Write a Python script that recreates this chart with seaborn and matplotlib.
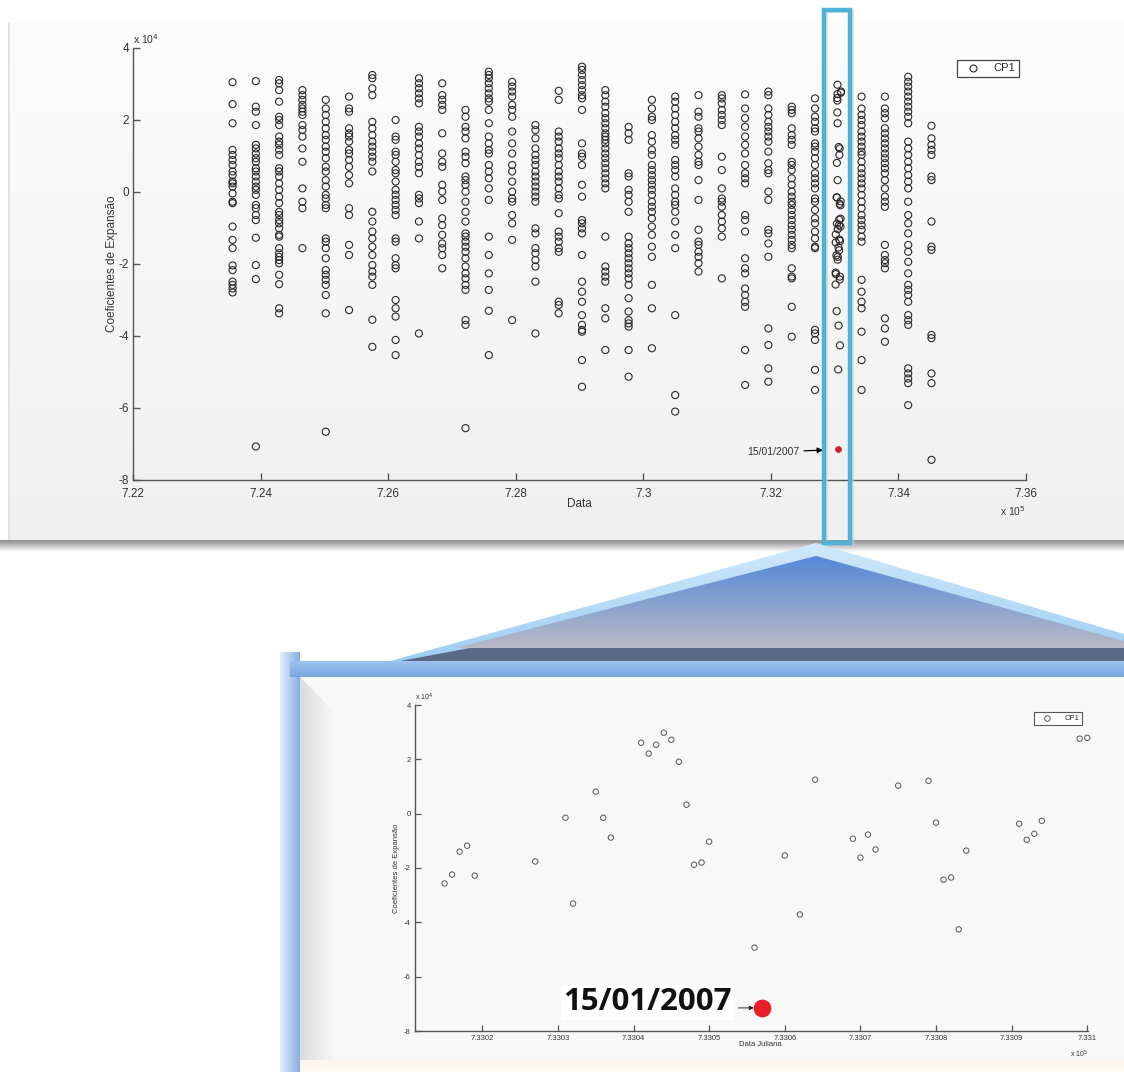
import numpy as np
import pandas as pd
import matplotlib
matplotlib.use("Agg")
import matplotlib.pyplot as plt
import matplotlib.colors as mcolors
from matplotlib.patches import Rectangle, Polygon
from matplotlib.lines import Line2D
import seaborn as sns

sns.set_theme(style="white")
plt.rcParams['font.family'] = ['Liberation Sans', 'DejaVu Sans']

# ---------------- data (CP1 in units of 1e4, dates as MATLAB datenum) ----------------
years = list(range(1981, 2012))

cp1_1981 = [3.05, 2.44, 1.91, 1.17, 1.03, 0.89, 0.75, 0.57, 0.47, 0.29, 0.24, 0.15, -0.04, -0.27, -0.31, -0.96, -1.33, -1.56, -2.04, -2.17, -2.49, -2.58, -2.68, -2.79]
cp1_1982 = [3.08, 2.37, 2.23, 1.86, 1.31, 1.21, 1.07, 0.94, 0.84, 0.66, 0.57, 0.43, 0.29, 0.15, 0.06, -0.08, -0.36, -0.45, -0.64, -0.78, -1.27, -2.03, -2.42, -7.07]
cp1_1983 = [3.11, 3.02, 2.83, 2.51, 2.09, 2.00, 1.86, 1.54, 1.40, 1.31, 1.17, 1.03, 0.66, 0.57, 0.43, 0.24, 0.06, -0.13, -0.31, -0.55, -0.64, -0.78, -0.87, -1.01, -1.19, -1.24, -1.56, -1.70, -1.80, -1.89, -1.98, -2.30, -2.56, -3.23, -3.37]
cp1_1984 = [2.83, 2.69, 2.56, 2.42, 2.32, 2.23, 2.14, 1.86, 1.72, 1.54, 1.21, 0.84, 0.10, -0.27, -0.45, -1.56]
cp1_1985 = [2.56, 2.32, 2.14, 1.95, 1.77, 1.58, 1.45, 1.26, 1.12, 0.94, 0.70, 0.57, 0.33, 0.15, -0.08, -0.18, -0.36, -0.45, -1.29, -1.38, -1.56, -1.84, -2.17, -2.30, -2.44, -2.58, -2.86, -3.37, -6.66]
cp1_1986 = [2.65, 2.32, 2.23, 1.77, 1.63, 1.54, 1.40, 1.17, 1.07, 0.89, 0.70, 0.47, 0.24, -0.45, -0.64, -1.47, -1.75, -3.28]
cp1_1987 = [3.25, 3.16, 2.88, 2.69, 1.95, 1.77, 1.58, 1.40, 1.26, 1.12, 0.98, 0.84, 0.57, -0.55, -0.82, -1.10, -1.29, -1.52, -1.75, -2.03, -2.21, -2.35, -2.58, -3.55, -4.30]
cp1_1988 = [2.00, 1.54, 1.45, 1.12, 1.03, 0.84, 0.61, 0.52, 0.29, 0.06, -0.08, -0.22, -0.36, -0.50, -0.64, -1.29, -1.38, -1.84, -2.03, -2.12, -3.00, -3.23, -3.46, -4.11, -4.53]
cp1_1989 = [3.16, 3.02, 2.88, 2.74, 2.60, 2.46, 1.81, 1.68, 1.54, 1.35, 1.21, 1.03, 0.84, 0.70, 0.52, -0.08, -0.18, -0.31, -0.82, -1.29, -3.93]
cp1_1990 = [3.02, 2.69, 2.56, 2.42, 2.28, 1.63, 1.07, 0.84, 0.70, 0.20, 0.01, -0.22, -0.73, -0.92, -1.19, -1.43, -1.56, -1.75, -2.12]
cp1_1991 = [2.28, 2.09, 1.81, 1.68, 1.49, 1.12, 0.98, 0.80, 0.43, 0.33, 0.20, 0.01, -0.27, -0.55, -0.82, -1.15, -1.24, -1.38, -1.52, -1.66, -1.84, -2.07, -2.26, -2.40, -2.58, -2.72, -3.56, -3.69, -6.56]
cp1_1992 = [3.34, 3.25, 3.16, 3.02, 2.88, 2.74, 2.60, 2.51, 2.28, 1.91, 1.54, 1.35, 1.17, 1.07, 0.75, 0.57, 0.38, 0.10, -0.22, -1.24, -1.75, -2.26, -2.72, -3.30, -4.53]
cp1_1993 = [3.06, 2.93, 2.79, 2.65, 2.42, 2.28, 2.09, 1.68, 1.35, 1.07, 0.75, 0.57, 0.29, 0.01, -0.18, -0.27, -0.64, -0.87, -1.33, -3.56]
cp1_1994 = [1.86, 1.72, 1.49, 1.21, 1.03, 0.89, 0.75, 0.57, 0.43, 0.29, 0.15, 0.01, -0.13, -0.27, -1.01, -1.15, -1.56, -1.70, -1.89, -2.07, -2.49, -3.93]
cp1_1995 = [2.81, 2.56, 1.68, 1.54, 1.40, 1.21, 1.07, 0.94, 0.75, 0.57, 0.43, 0.29, 0.10, -0.08, -0.18, -0.59, -1.10, -1.24, -1.38, -1.56, -1.66, -3.05, -3.14, -3.37]
cp1_1996 = [3.48, 3.39, 3.25, 3.11, 2.97, 2.83, 2.69, 2.60, 2.28, 1.35, 1.07, 0.98, 0.75, 0.20, -0.13, -0.78, -0.87, -1.01, -1.15, -1.75, -2.49, -2.77, -3.05, -3.42, -3.69, -3.83, -3.88, -4.67, -5.41]
cp1_1997 = [2.83, 2.69, 2.51, 2.37, 2.19, 2.05, 1.91, 1.77, 1.63, 1.54, 1.45, 1.35, 1.21, 1.07, 0.94, 0.80, 0.66, 0.52, 0.38, 0.24, 0.10, -1.24, -2.07, -2.21, -2.35, -2.49, -3.23, -3.51, -4.39]
cp1_1998 = [1.81, 1.63, 1.45, 0.52, 0.43, 0.06, -0.08, -0.27, -0.55, -1.24, -1.43, -1.56, -1.70, -1.84, -1.98, -2.12, -2.26, -2.40, -2.58, -2.95, -3.32, -3.56, -3.65, -3.74, -4.39, -5.13]
cp1_1999 = [2.56, 2.32, 2.09, 2.00, 1.58, 1.40, 1.17, 1.03, 0.75, 0.61, 0.47, 0.33, 0.20, 0.06, -0.08, -0.27, -0.41, -0.55, -0.73, -0.96, -1.19, -1.52, -1.80, -2.58, -3.23, -4.34]
cp1_2000 = [2.65, 2.51, 2.32, 2.14, 1.95, 1.77, 1.58, 1.45, 1.31, 0.89, 0.75, 0.61, 0.43, 0.10, -0.08, -0.27, -0.36, -0.55, -0.82, -1.19, -1.56, -3.42, -5.64, -6.10]
cp1_2001 = [2.69, 2.23, 2.09, 1.77, 1.68, 1.49, 1.26, 1.03, 0.84, 0.75, 0.33, -0.22, -1.05, -1.38, -1.47, -1.66, -1.80, -1.98, -2.21]
cp1_2002 = [2.69, 2.60, 2.46, 2.28, 2.14, 2.00, 1.86, 0.98, 0.61, 0.10, -0.18, -0.27, -0.41, -0.64, -0.82, -1.01, -1.24, -2.40]
cp1_2003 = [2.71, 2.32, 2.05, 1.81, 1.54, 1.31, 1.07, 0.75, 0.52, 0.38, 0.24, -0.64, -0.78, -1.10, -1.84, -2.12, -2.26, -2.68, -2.86, -3.05, -3.19, -4.39, -5.36]
cp1_2004 = [2.79, 2.69, 2.32, 2.14, 1.95, 1.81, 1.68, 1.54, 1.40, 1.12, 0.80, 0.61, 0.52, 0.01, -0.22, -1.05, -1.15, -1.43, -1.80, -3.79, -4.25, -4.90, -5.27]
cp1_2005 = [2.37, 2.28, 2.19, 1.77, 1.58, 1.45, 1.31, 0.84, 0.75, 0.61, 0.38, 0.20, 0.01, -0.13, -0.27, -0.36, -0.50, -0.64, -0.78, -0.92, -1.05, -1.19, -1.33, -1.47, -1.56, -2.12, -2.35, -2.40, -3.19, -4.02]
cp1_2006 = [2.60, 2.32, 2.09, 1.95, 1.77, 1.68, 1.35, 1.26, 1.12, 0.94, 0.75, 0.52, 0.38, 0.24, 0.10, -0.18, -0.27, -0.50, -0.73, -0.87, -1.10, -1.29, -1.52, -1.56, -3.83, -3.93, -4.11, -4.94, -5.50]
cp1_2008 = [2.65, 2.32, 2.14, 2.00, 1.86, 1.68, 1.54, 1.40, 1.26, 1.12, 1.03, 0.84, 0.66, 0.52, 0.38, 0.24, 0.10, -0.08, -0.27, -0.45, -0.64, -0.78, -0.92, -1.05, -1.24, -1.38, -2.44, -2.77, -3.05, -3.23, -3.88, -4.67, -5.50]
cp1_2009 = [2.65, 2.32, 2.19, 2.05, 1.77, 1.63, 1.49, 1.35, 1.21, 1.07, 0.94, 0.80, 0.66, 0.52, 0.33, 0.10, -0.13, -0.27, -0.41, -1.47, -1.75, -1.89, -1.98, -2.12, -3.51, -3.79, -4.16]
cp1_2010 = [3.20, 3.06, 2.93, 2.79, 2.65, 2.51, 2.37, 2.23, 2.09, 1.91, 1.40, 1.21, 1.03, 0.84, 0.66, 0.47, 0.29, 0.10, -0.27, -0.64, -0.87, -1.15, -1.47, -1.66, -1.94, -2.26, -2.58, -2.72, -2.86, -3.05, -3.42, -3.56, -3.69, -4.90, -5.04, -5.18, -5.31, -5.92]
cp1_2011 = [1.84, 1.49, 1.31, 1.17, 1.03, 0.43, 0.33, -0.82, -1.52, -1.61, -3.97, -4.06, -5.04, -5.31, -7.44]

# zoomed season 2006/2007 (datenum, CP1 x 1e4)
zoom_days = [733015, 733016, 733017, 733018, 733019, 733027, 733031, 733032, 733035, 733036,
             733037, 733041, 733042, 733043, 733044, 733045, 733046, 733047, 733048, 733049,
             733050, 733056, 733060, 733062, 733064, 733069, 733070, 733071, 733072, 733075,
             733079, 733080, 733081, 733082, 733083, 733084, 733091, 733092, 733093, 733094,
             733099, 733100]
zoom_cp1 = [-2.57, -2.24, -1.40, -1.18, -2.28, -1.76, -0.15, -3.31, 0.81, -0.15,
            -0.88, 2.61, 2.21, 2.54, 2.98, 2.72, 1.91, 0.33, -1.88, -1.80,
            -1.03, -4.93, -1.54, -3.71, 1.25, -0.92, -1.62, -0.77, -1.32, 1.03,
            1.21, -0.33, -2.43, -2.35, -4.26, -1.36, -0.37, -0.96, -0.74, -0.26,
            2.76, 2.79]
event_day = 733057          # 15/01/2007
event_cp1 = -7.15
event_label = "15/01/2007"

top_xticks = [722000, 724000, 726000, 728000, 730000, 732000, 734000, 736000]
top_xticklabels = ["7.22", "7.24", "7.26", "7.28", "7.3", "7.32", "7.34", "7.36"]
zoom_xticks = [733020, 733030, 733040, 733050, 733060, 733070, 733080, 733090, 733100]
zoom_xticklabels = ["7.3302", "7.3303", "7.3304", "7.3305", "7.3306", "7.3307", "7.3308", "7.3309", "7.331"]
yticks = [-8, -6, -4, -2, 0, 2, 4]

per_year = {
    1981: cp1_1981, 1982: cp1_1982, 1983: cp1_1983, 1984: cp1_1984, 1985: cp1_1985,
    1986: cp1_1986, 1987: cp1_1987, 1988: cp1_1988, 1989: cp1_1989, 1990: cp1_1990,
    1991: cp1_1991, 1992: cp1_1992, 1993: cp1_1993, 1994: cp1_1994, 1995: cp1_1995,
    1996: cp1_1996, 1997: cp1_1997, 1998: cp1_1998, 1999: cp1_1999, 2000: cp1_2000,
    2001: cp1_2001, 2002: cp1_2002, 2003: cp1_2003, 2004: cp1_2004, 2005: cp1_2005,
    2006: cp1_2006, 2008: cp1_2008, 2009: cp1_2009, 2010: cp1_2010, 2011: cp1_2011,
}
rows = []
for yr, vals in per_year.items():
    d = pd.Timestamp(yr, 1, 15).toordinal() + 366
    rows += [(d, v) for v in vals]
rows += list(zip(zoom_days, zoom_cp1))
top_df = pd.DataFrame(rows, columns=["dia", "cp1"])
zoom_df = pd.DataFrame({"dia": zoom_days, "cp1": zoom_cp1})
event_df = pd.DataFrame({"dia": [event_day], "cp1": [event_cp1]})

# ---------------- figure ----------------
W, H = 1124, 1072
fig = plt.figure(figsize=(W / 100, H / 100), dpi=100)
fig.patch.set_facecolor("white")

bg = fig.add_axes([0, 0, 1, 1], zorder=0)
bg.axis("off")


def grad(ax, x0, x1, y0, y1, c0, c1, horizontal=False, clip=None, z=1):
    g = np.linspace(0, 1, 256)
    a = np.array(mcolors.to_rgb(c0)); b = np.array(mcolors.to_rgb(c1))
    col = a[None, :] * (1 - g[:, None]) + b[None, :] * g[:, None]
    img = col[None, :, :] if horizontal else col[:, None, :]
    im = ax.imshow(img, extent=[x0, x1, y1, y0], aspect="auto", zorder=z, interpolation="bilinear")
    if clip is not None:
        ax.add_patch(clip)
        im.set_clip_path(clip)
    return im


# top panel
grad(bg, 8, W, 22, 540, "#fcfcfc", "#f0f0f0", z=1)
bg.add_patch(Rectangle((8, 22), 1.5, 518, fc="#e2e2e2", ec="none", zorder=2))
grad(bg, 0, W, 540, 552, "#8c8c8c", "#ffffff", z=2)

# connecting triangle
outer = Polygon([(816, 543), (383, 663), (W, 663), (W, 634)], closed=True, fc="none", ec="none")
grad(bg, 383, W, 543, 663, "#cfe9fb", "#9ccdf3", clip=outer, z=3)
inner = Polygon([(816, 556), (455, 648), (W, 648), (W, 641)], closed=True, fc="none", ec="none")
grad(bg, 455, W, 556, 648, "#5588d8", "#b9bac6", clip=inner, z=4)
bg.add_patch(Polygon([(395, 662), (470, 648), (W, 648), (W, 662)], closed=True,
                     fc="#5b6987", ec="none", zorder=5))

# bottom panel frame
grad(bg, 280, 300, 652, H, "#e3eefb", "#86aee6", horizontal=True, z=3)
grad(bg, 290, W, 661, 677, "#9dc3ee", "#79a6e0", z=6)
bg.add_patch(Rectangle((300, 677), W - 300, 386, fc="#f8f8f8", ec="none", zorder=6))
grad(bg, 300, 336, 677, 1062, "#dcdcdc", "#f8f8f8", horizontal=True, z=7)
bg.add_patch(Polygon([(300, 677), (345, 677), (345, 722)], closed=True, fc="#f8f8f8", ec="none", zorder=7))
grad(bg, 300, W, 1060, H, "#fdf6ef", "#fffaf6", z=7)

bg.set_xlim(0, W)
bg.set_ylim(H, 0)


def matlab_axes(rect, fs):
    ax = fig.add_axes(rect, zorder=3)
    ax.set_facecolor("none")
    for s in ("top", "right"):
        ax.spines[s].set_visible(False)
    for s in ("left", "bottom"):
        ax.spines[s].set_color("#555555")
        ax.spines[s].set_linewidth(1.0)
    ax.tick_params(direction="in", length=5, width=1, colors="#555555", labelcolor="#333333",
                   labelsize=fs, left=True, bottom=True, pad=3)
    ax.set_yticks(yticks)
    ax.set_yticklabels([str(t) for t in yticks])
    ax.set_ylim(-8, 4)
    return ax


# ---------- top: all seasons ----------
ax1 = matlab_axes([133 / W, 1 - 480 / H, 893 / W, 432 / H], 8.5)
ax1.tick_params(axis="x", pad=6)
sns.scatterplot(data=top_df, x="dia", y="cp1", ax=ax1, marker="o", s=26,
                facecolors="none", edgecolor="#2a2a2a", linewidth=0.8, legend=False)
sns.scatterplot(data=event_df, x="dia", y="cp1", ax=ax1, marker="o", s=20,
                color="#c8232c", edgecolor="#c8232c", legend=False)
ax1.set_xlim(top_xticks[0], top_xticks[-1])
ax1.set_xticks(top_xticks)
ax1.set_xticklabels(top_xticklabels)
ax1.set_xlabel("Data", fontsize=8.5, color="#333333")
ax1.set_ylabel("Coeficientes de Expansão", fontsize=8.5, color="#333333")
ax1.xaxis.set_label_coords(0.5, -(498 - 480) / 432)
ax1.yaxis.set_label_coords((118 - 133) / 893, 0.5)
ax1.text(0.0, 1.005, r"x 10$^4$", transform=ax1.transAxes, ha="left", va="bottom", fontsize=7.5, color="#333333")
ax1.text(1.0, -(504 - 480) / 432, r"x 10$^5$", transform=ax1.transAxes, ha="right", va="top", fontsize=7.5, color="#333333")
ax1.annotate(event_label, xy=(event_day, event_cp1), xytext=(-28, -2), textcoords="offset points",
             ha="right", va="center", fontsize=7.5, color="#333333",
             arrowprops=dict(arrowstyle="-|>", color="black", lw=0.9, shrinkA=1, shrinkB=11, mutation_scale=8))
h1 = Line2D([], [], marker="o", ls="none", mfc="none", mec="#2a2a2a", ms=5, mew=0.8)
leg1 = ax1.legend([h1], ["CP1"], loc="upper left", bbox_to_anchor=(951 / W, 1 - 54 / H),
                  bbox_transform=fig.transFigure, fontsize=8, frameon=True, fancybox=False,
                  edgecolor="#444444", framealpha=1, borderpad=0.35, handlelength=2.2, handletextpad=0.8)
leg1.get_frame().set_linewidth(0.9)

# ---------- bottom: zoom on 2006/2007 season ----------
ax2 = matlab_axes([415 / W, 1 - 1031 / H, 673 / W, 326 / H], 5.5)
ax2.tick_params(length=4, width=0.9)
sns.scatterplot(data=zoom_df, x="dia", y="cp1", ax=ax2, marker="o", s=15, clip_on=False,
                facecolors="none", edgecolor="#555555", linewidth=0.7, legend=False)
sns.scatterplot(data=event_df, x="dia", y="cp1", ax=ax2, marker="o", s=140, clip_on=False,
                color="#e8202a", edgecolor="#e8202a", legend=False)
ax2.set_xlim(733011.1, 733100.1)
ax2.set_xticks(zoom_xticks)
ax2.set_xticklabels(zoom_xticklabels)
ax2.set_xlabel("Data Juliana", fontsize=5.5, color="#333333")
ax2.set_ylabel("Coeficientes de Expansão", fontsize=5.5, color="#333333")
ax2.xaxis.set_label_coords((760 - 415) / 673, -(1041 - 1031) / 326)
ax2.yaxis.set_label_coords((400 - 415) / 673, 0.5)
ax2.text(0.0, 1.005, r"x 10$^4$", transform=ax2.transAxes, ha="left", va="bottom", fontsize=5, color="#333333")
ax2.text(1.0, -(1049 - 1031) / 326, r"x 10$^5$", transform=ax2.transAxes, ha="right", va="top", fontsize=5, color="#333333")
ax2.annotate(event_label, xy=(event_day, event_cp1), xytext=(-22, 4), textcoords="offset points",
             ha="right", va="center", fontsize=22.5, fontweight="bold", family=["Open Sans", "DejaVu Sans"],
             color="#111111", bbox=dict(fc="white", ec="none", pad=1.5))
ax2.annotate("", xy=(event_day, event_cp1), xytext=(-17, 0), textcoords="offset points",
             arrowprops=dict(arrowstyle="-|>", color="#222222", lw=0.7, shrinkA=0, shrinkB=6, mutation_scale=6))
h2 = Line2D([], [], marker="o", ls="none", mfc="none", mec="#555555", ms=4, mew=0.7)
leg2 = ax2.legend([h2], ["CP1"], loc="upper left", bbox_to_anchor=(1030 / W, 1 - 708 / H),
                  bbox_transform=fig.transFigure, fontsize=5.5, frameon=True, fancybox=False,
                  edgecolor="#555555", framealpha=1, borderpad=0.4, handlelength=2.6, handletextpad=1.0)
leg2.get_frame().set_linewidth(0.8)

# ---------- highlight box over the 2007 season ----------
fg = fig.add_axes([0, 0, 1, 1], zorder=10)
fg.set_facecolor("none")
fg.axis("off")
fg.add_patch(Rectangle((825.5, 11), 26, 532, fill=False, ec="#d0d0d0", lw=3, alpha=0.6))
fg.add_patch(Rectangle((823.5, 9.5), 26, 533, fill=False, ec="#4db3d6", lw=3.2))
fg.set_xlim(0, W)
fg.set_ylim(H, 0)

fig.savefig("out.png", dpi=100)
